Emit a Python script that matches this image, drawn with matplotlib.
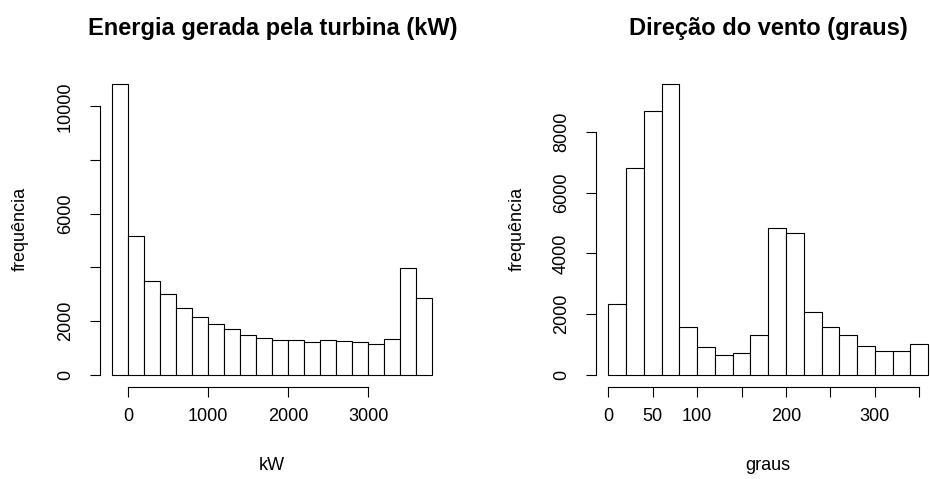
import numpy as np
import matplotlib.pyplot as plt

plt.rcParams['font.family'] = ['Liberation Sans', 'DejaVu Sans']

# histogram 1: energia (kW), classes de 200 kW
kw_breaks = np.arange(-200, 3801, 200)
kw_counts = [10850, 5170, 3490, 3010, 2500, 2150, 1890, 1700, 1480, 1390,
             1300, 1300, 1210, 1300, 1250, 1210, 1160, 1350, 3980, 2860]
kw_xticks = [0, 1000, 2000, 3000]
kw_xlabels = ["0", "1000", "2000", "3000"]
kw_yticks = [0, 2000, 4000, 6000, 8000, 10000]
kw_ylabels = ["0", "2000", "", "6000", "", "10000"]

# histogram 2: direcao do vento (graus), classes de 20 graus
dir_breaks = np.arange(0, 361, 20)
dir_counts = [2340, 6810, 8690, 9590, 1580, 910, 640, 710, 1310,
              4830, 4670, 2070, 1580, 1310, 950, 780, 780, 1020]
dir_xticks = [0, 50, 100, 150, 200, 250, 300, 350]
dir_xlabels = ["0", "50", "100", "", "200", "", "300", ""]
dir_yticks = [0, 2000, 4000, 6000, 8000]
dir_ylabels = ["0", "2000", "4000", "6000", "8000"]

W, H = 930, 479
fig = plt.figure(figsize=(W / 100, H / 100), dpi=100)

def px(x0, y0, x1, y1):
    # pixel box (top-left origin) -> figure fraction rect
    return [x0 / W, 1 - y1 / H, (x1 - x0) / W, (y1 - y0) / H]

panels = [
    (px(99.5, 72, 445, 386.5), kw_breaks, kw_counts, kw_xticks, kw_xlabels,
     kw_yticks, kw_ylabels, "Energia gerada pela turbina (kW)", "kW", 20),
    (px(595.5, 72, 941, 386.5), dir_breaks, dir_counts, dir_xticks, dir_xlabels,
     dir_yticks, dir_ylabels, "Direção do vento (graus)", "graus", 517),
]

for rect, br, cnt, xt, xl, yt, yl, title, xlab, ylab_x in panels:
    ax = fig.add_axes(rect)
    ax.patch.set_alpha(0)
    ax.bar(br[:-1], cnt, width=np.diff(br), align='edge',
           color='white', edgecolor='black', linewidth=0.8)
    span = br[-1] - br[0]
    ax.set_xlim(br[0] - 0.04 * span, br[-1] + 0.04 * span)
    ax.set_ylim(-0.04 * max(cnt), 1.04 * max(cnt))

    for s in ['top', 'right']:
        ax.spines[s].set_visible(False)
    ax.spines['left'].set_bounds(yt[0], yt[-1])
    ax.spines['bottom'].set_bounds(xt[0], xt[-1])
    for s in ['left', 'bottom']:
        ax.spines[s].set_linewidth(0.8)

    ax.set_xticks(xt)
    ax.set_xticklabels(xl)
    ax.set_yticks(yt)
    ax.set_yticklabels(yl, rotation=90, va='center')
    ax.tick_params(length=7.5, width=0.8, labelsize=13, color='black')
    ax.tick_params(axis='x', pad=8)
    ax.tick_params(axis='y', pad=11)

    pos = ax.get_position()
    cx = (pos.x0 + pos.x1) / 2
    fig.text(cx, 1 - 28 / H, title, ha='center', va='center',
             fontsize=17, fontweight='bold')
    fig.text(cx, 1 - 466 / H, xlab, ha='center', va='center', fontsize=13)
    fig.text(ylab_x / W, 1 - 229 / H, "frequência", ha='center', va='center',
             rotation=90, fontsize=13)

fig.savefig("out.png", dpi=100)
